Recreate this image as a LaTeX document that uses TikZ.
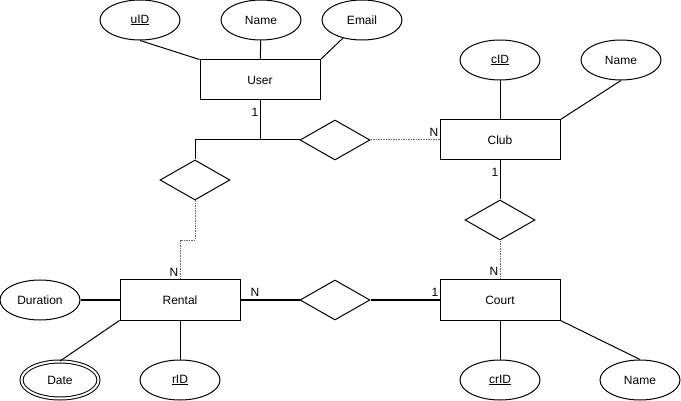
\documentclass[tikz,border=0pt]{standalone}
\usepackage{fontspec}
\setmainfont{Liberation Sans}
\usetikzlibrary{shapes.geometric, positioning}

\begin{document}
\begin{tikzpicture}[x=1pt, y=-1pt, line width=1pt, font=\fontsize{12}{14}\selectfont,
  entity/.style={draw, rectangle, minimum width=120pt, minimum height=40pt, inner sep=0pt},
  attr/.style={draw, ellipse, minimum width=80pt, minimum height=40pt, inner sep=0pt},
  multi/.style={attr, double, double distance=2pt, minimum width=77pt, minimum height=37pt},
  rel/.style={draw, diamond, minimum width=70pt, minimum height=40pt, inner sep=0pt},
  weak/.style={draw=black!60, dash pattern=on 1.5pt off 1pt},
  card/.style={inner sep=0pt}]
\useasboundingbox (0,0) rectangle (681,401);
% entities
\node (user) [entity] at (260, 80) {User};
\node (club) [entity] at (500, 140) {Club};
\node (rental) [entity] at (180, 300) {Rental};
\node (court) [entity] at (500, 300) {Court};
% relationships
\node (r1) [rel] at (335, 140) {};
\node (r2) [rel] at (195, 180) {};
\node (r3) [rel] at (500, 220) {};
\node (r4) [rel] at (335, 300) {};
% attributes
\node (uid) [attr] at (140, 20) {\underline{uID}};
\node (uname) [attr, right = 40pt of uid] {Name};
\node (email) [attr, right = 20pt of uname] {Email};
\node (cid) [attr] at (500, 60) {\underline{cID}};
\node (cname) [attr, right = 40pt of cid] {Name};
\node (dur) [attr] at (40, 300) {Duration};
\node (date) [multi] at (60, 380) {Date};
\node (rid) [attr] at (180, 380) {\underline{rID}};
\node (crid) [attr] at (500, 380) {\underline{crID}};
\node (crname) [attr] at (640, 380) {Name};
\coordinate (j) at (260, 140);
% attribute links
\draw (uid.south) -- (user.north west);
\draw (uname) -- (user);
\draw (email) -- (user.north east);
\draw (cid) -- (club);
\draw (cname.south) -- (club.north east);
\draw (dur) -- (rental);
\draw (date.north) -- (rental.south west);
\draw (rid) -- (rental);
\draw (crid) -- (court);
\draw (court.south east) -- (crname.north);
% relationship links
\draw (user) -- (j) -- (r1);
\draw (j) -| (r2.north);
\draw [weak] (r1) -- (club);
\draw [weak] (r2.south) -- ++(0, 40) -| (rental.north);
\draw (club) -- (r3);
\draw [weak] (r3) -- (court);
\draw (rental) -- (r4) -- (court);
% cardinalities
\node (c1) [card] at (255, 112) {1};
\node (c2) [card] at (434, 132) {N};
\node (c3) [card] at (495, 172) {1};
\node (c4) [card] at (494, 271) {N};
\node (c5) [card] at (174, 272) {N};
\node (c6) [card] at (255, 292) {N};
\node (c7) [card] at (435, 292) {1};
\end{tikzpicture}
\end{document}
